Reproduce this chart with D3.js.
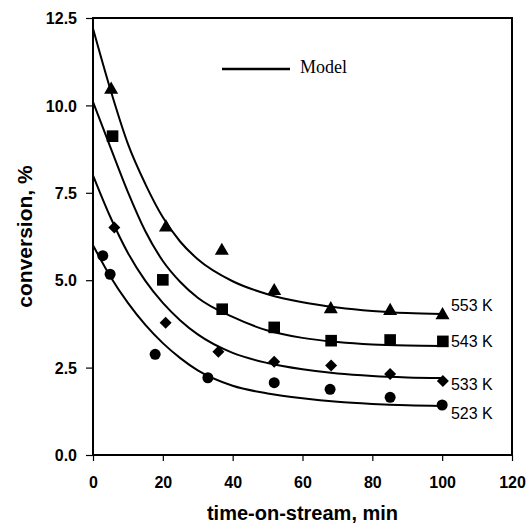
<!DOCTYPE html>
<html>
<head>
<meta charset="utf-8">
<script src="https://cdn.jsdelivr.net/npm/d3@7"></script>
<style>
  body { margin: 0; background: #fff; }
</style>
</head>
<body>
<div id="chart"></div>
<script>
const width = 529;
const height = 530;
const margin = {top: 18, right: 17, bottom: 75, left: 93};

// measured points, time-on-stream (min) and conversion (%)
const t553 = [5.2, 20.9, 36.9, 51.9, 68.1, 85.1, 100.1];
const v553 = [10.48, 6.54, 5.87, 4.72, 4.2, 4.15, 4.03];
const t543 = [5.6, 20.0, 37.0, 51.9, 68.2, 85.1, 100.2];
const v543 = [9.12, 5.01, 4.17, 3.65, 3.27, 3.29, 3.25];
const t533 = [6.1, 20.8, 35.9, 51.9, 68.2, 85.1, 100.2];
const v533 = [6.51, 3.78, 2.95, 2.67, 2.56, 2.32, 2.12];
const t523 = [2.8, 4.9, 17.8, 32.9, 51.9, 67.9, 85.1, 100.0];
const v523 = [5.7, 5.17, 2.88, 2.21, 2.07, 1.88, 1.65, 1.43];

// model curves
const modelT = [0, 5, 10, 15, 20, 25, 30, 40, 50, 60, 70, 80, 90, 100];
const model553 = [12.2, 10.45, 8.9, 7.75, 6.8, 6.1, 5.6, 4.97, 4.6, 4.37, 4.22, 4.12, 4.06, 4.03];
const model543 = [10.1, 8.8, 7.52, 6.4, 5.55, 4.95, 4.5, 3.95, 3.56, 3.35, 3.23, 3.16, 3.13, 3.12];
const model533 = [8.0, 6.8, 5.78, 4.98, 4.35, 3.85, 3.45, 2.92, 2.63, 2.45, 2.33, 2.26, 2.22, 2.2];
const model523 = [6.0, 5.1, 4.35, 3.72, 3.2, 2.77, 2.42, 1.98, 1.76, 1.62, 1.52, 1.46, 1.42, 1.40];

const temps = ["553 K", "543 K", "533 K", "523 K"];
const labelY = [4.28, 3.25, 2.02, 1.19];

const xTicks = [0, 20, 40, 60, 80, 100, 120];
const yTicks = [0, 2.5, 5, 7.5, 10, 12.5];

const series = [
  {name: temps[0], t: t553, v: v553, model: model553, shape: "triangle", ly: labelY[0]},
  {name: temps[1], t: t543, v: v543, model: model543, shape: "square", ly: labelY[1]},
  {name: temps[2], t: t533, v: v533, model: model533, shape: "diamond", ly: labelY[2]},
  {name: temps[3], t: t523, v: v523, model: model523, shape: "circle", ly: labelY[3]}
];

const x = d3.scaleLinear().domain([0, 120]).range([margin.left, width - margin.right]);
const y = d3.scaleLinear().domain([0, 12.5]).range([height - margin.bottom, margin.top]);

const svg = d3.select("#chart").append("svg")
    .attr("width", width)
    .attr("height", height)
    .attr("font-family", "'Liberation Sans', Arial, sans-serif");

// axes
const xAxis = svg.append("g")
    .attr("transform", `translate(0,${y(0)})`)
    .call(d3.axisBottom(x).tickValues(xTicks).tickSize(6).tickSizeOuter(0).tickFormat(d3.format("d")));
xAxis.selectAll("text")
    .attr("y", 33).attr("dy", 0)
    .attr("font-size", 16).attr("font-weight", "bold").attr("fill", "#000");

const yAxis = svg.append("g")
    .attr("transform", `translate(${x(0)},0)`)
    .call(d3.axisLeft(y).tickValues(yTicks).tickSize(7).tickSizeOuter(0).tickFormat(d3.format(".1f")));
yAxis.selectAll("text")
    .attr("x", -16).attr("dy", "0.36em")
    .attr("font-size", 16).attr("font-weight", "bold").attr("fill", "#000");

svg.selectAll(".domain").remove();
svg.selectAll(".tick line").attr("stroke", "#000").attr("stroke-width", 1.2);

// frame
svg.append("rect")
    .attr("x", x(0)).attr("y", y(12.5))
    .attr("width", x(120) - x(0)).attr("height", y(0) - y(12.5))
    .attr("fill", "none").attr("stroke", "#000").attr("stroke-width", 2);

// model lines
const line = d3.line()
    .x((d, i) => x(modelT[i]))
    .y(d => y(d))
    .curve(d3.curveMonotoneX);

svg.append("g")
    .attr("fill", "none")
    .attr("stroke", "#000")
    .attr("stroke-width", 2)
  .selectAll("path")
  .data(series)
  .join("path")
    .attr("d", s => line(s.model));

// markers
const symbols = {
  triangle: d3.symbol(d3.symbolTriangle, 85),
  square: d3.symbol(d3.symbolSquare, 135),
  diamond: d3.symbol(d3.symbolSquare, 72),
  circle: d3.symbol(d3.symbolCircle, 95)
};

series.forEach(s => {
  svg.append("g")
    .selectAll("path")
    .data(s.t.map((t, i) => [t, s.v[i]]))
    .join("path")
      .attr("d", symbols[s.shape])
      .attr("fill", "#000")
      .attr("transform", d => `translate(${x(d[0])},${y(d[1])})` + (s.shape === "diamond" ? " rotate(45)" : "") + (s.shape === "triangle" ? " translate(0,1)" : ""));
});

// temperature labels
svg.append("g")
  .selectAll("text")
  .data(series)
  .join("text")
    .attr("x", x(102.5))
    .attr("y", s => y(s.ly))
    .attr("dy", "0.36em")
    .attr("font-size", 16)
    .text(s => s.name);

// legend
svg.append("line")
    .attr("x1", 222).attr("x2", 290)
    .attr("y1", 69).attr("y2", 69)
    .attr("stroke", "#000").attr("stroke-width", 2.5);
svg.append("text")
    .attr("x", 300).attr("y", 73)
    .attr("font-family", "'Liberation Serif', 'Times New Roman', serif")
    .attr("font-size", 18)
    .text("Model");

// axis titles
svg.append("text")
    .attr("x", (x(0) + x(120)) / 2)
    .attr("y", 520)
    .attr("text-anchor", "middle")
    .attr("font-size", 20)
    .attr("font-weight", "bold")
    .text("time-on-stream, min");

svg.append("text")
    .attr("transform", `translate(32,${(y(0) + y(12.5)) / 2}) rotate(-90)`)
    .attr("text-anchor", "middle")
    .attr("font-size", 21)
    .attr("font-weight", "bold")
    .text("conversion, %");
</script>
</body>
</html>
